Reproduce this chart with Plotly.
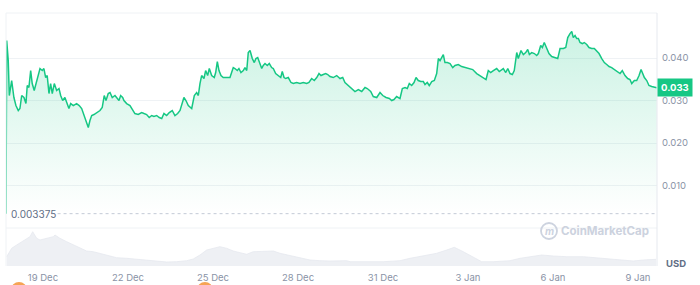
import pandas as pd
import plotly.graph_objects as go

# ---------------- data ----------------
BASE_TIME = "2023-12-19 00:00"          # hours below are relative to this moment
BASELINE_PRICE = 0.003375
CURRENT_PRICE_LABEL = "0.033"

PRICE_HOURS = [
    -31.3, -30.7, -29.4, -28.5, -26.5, -24.6, -22.9, -20.9, -19.5, -18.0,
    -16.1, -14.4, -13.3, -11.9, -10.4, -9.1, -7.4, -5.9, -4.5, -2.5,
    -0.6, 0.8, 2.3, 3.6, 5.1, 6.5, 7.9, 9.6, 11.6, 13.6,
    15.0, 16.7, 18.6, 20.1, 22.0, 23.5, 25.7, 28.5, 30.7, 32.8,
    34.7, 36.4, 38.4, 39.8, 41.3, 43.2, 45.5, 48.3, 50.2, 51.9,
    53.4, 55.3, 56.8, 58.7, 61.0, 62.9, 64.4, 65.8, 67.5, 68.6,
    70.9, 73.7, 76.0, 77.9, 80.7, 83.6, 85.6, 87.8, 90.0, 92.1,
    94.0, 96.3, 98.5, 100.6, 102.5, 104.8, 107.0, 109.5, 111.8, 114.1,
    116.1, 117.5, 119.4, 121.1, 123.1, 126.0, 128.2, 130.2, 131.6, 133.0,
    134.4, 136.4, 137.8, 139.5, 140.9, 142.9, 145.1, 146.3, 147.7, 149.1,
    150.8, 152.7, 155.6, 158.4, 159.8, 161.2, 162.6, 164.6, 166.0, 167.7,
    169.7, 171.1, 172.6, 173.9, 175.4, 177.3, 179.0, 180.4, 181.9, 183.2,
    185.3, 186.6, 188.1, 190.0, 191.7, 193.7, 195.1, 197.1, 199.3, 201.4,
    202.7, 204.2, 205.6, 207.8, 210.1, 212.0, 214.9, 217.7, 220.5, 223.4,
    225.3, 227.6, 229.8, 231.9, 233.8, 235.5, 237.4, 239.5, 241.2, 243.1,
    245.9, 248.8, 251.6, 253.9, 255.8, 258.6, 261.5, 264.3, 267.1, 270.0,
    272.8, 274.7, 277.6, 279.8, 282.7, 285.5, 287.8, 290.6, 293.4, 295.4,
    297.3, 299.6, 302.4, 304.4, 306.7, 308.6, 310.3, 312.3, 314.3, 316.0,
    317.9, 320.0, 322.2, 323.6, 325.5, 327.2, 329.3, 331.5, 333.5, 334.9,
    336.3, 337.7, 339.1, 340.5, 342.5, 344.8, 347.1, 349.0, 351.8, 354.7,
    357.5, 360.3, 364.0, 367.4, 370.2, 373.0, 375.3, 377.2, 379.2, 381.5,
    384.3, 386.5, 389.9, 392.0, 393.7, 395.6, 397.6, 399.2, 401.3, 402.6,
    404.9, 406.9, 408.9, 410.6, 412.0, 414.0, 416.2, 418.2, 419.6, 421.6,
    423.0, 424.6, 426.7, 428.6, 430.9, 433.7, 436.0, 438.0, 440.8, 442.8,
    444.5, 446.4, 447.9, 449.2, 450.7, 452.1, 453.5, 454.9, 456.8, 458.5,
    460.6, 462.5, 464.8, 467.0, 469.0, 471.0, 473.3, 475.5, 477.5, 479.5,
    481.7, 484.0, 486.0, 488.8, 490.7, 493.0, 495.3, 497.2, 498.7, 500.9,
    502.9, 504.9, 506.6, 507.7, 509.4, 511.4, 513.3, 515.6, 517.9, 519.9,
]

PRICES = [
    0.003375, 0.04412, 0.03941, 0.03118, 0.03471, 0.03071, 0.02882, 0.02765, 0.02812, 0.03118,
    0.03071, 0.02929, 0.03353, 0.03306, 0.03706, 0.03400, 0.03235, 0.03400, 0.03588, 0.03753,
    0.03706, 0.03753, 0.03541, 0.03588, 0.03165, 0.03400, 0.03165, 0.03400, 0.03235, 0.03282,
    0.03118, 0.03000, 0.03071, 0.02953, 0.02812, 0.02929, 0.02882, 0.02929, 0.02882, 0.02812,
    0.02647, 0.02529, 0.02365, 0.02529, 0.02647, 0.02671, 0.02718, 0.02765, 0.02835, 0.03118,
    0.03000, 0.03165, 0.03188, 0.03071, 0.03118, 0.03047, 0.03000, 0.03118, 0.03071, 0.03000,
    0.02929, 0.02882, 0.02765, 0.02694, 0.02671, 0.02718, 0.02694, 0.02671, 0.02600, 0.02647,
    0.02624, 0.02647, 0.02600, 0.02576, 0.02694, 0.02647, 0.02718, 0.02765, 0.02647, 0.02694,
    0.02765, 0.02882, 0.03071, 0.03000, 0.02882, 0.02812, 0.03118, 0.03188, 0.03118, 0.03400,
    0.03588, 0.03518, 0.03706, 0.03588, 0.03753, 0.03588, 0.03541, 0.03659, 0.03918, 0.03706,
    0.03588, 0.03541, 0.03541, 0.03541, 0.03659, 0.03776, 0.03753, 0.03706, 0.03753, 0.03659,
    0.03706, 0.03776, 0.03706, 0.04129, 0.04176, 0.03988, 0.03894, 0.03988, 0.04012, 0.03894,
    0.03753, 0.03824, 0.03871, 0.03824, 0.03871, 0.03776, 0.03753, 0.03635, 0.03588, 0.03541,
    0.03682, 0.03541, 0.03518, 0.03541, 0.03424, 0.03400, 0.03424, 0.03400, 0.03424, 0.03400,
    0.03424, 0.03518, 0.03471, 0.03541, 0.03635, 0.03588, 0.03612, 0.03635, 0.03612, 0.03565,
    0.03541, 0.03588, 0.03518, 0.03541, 0.03424, 0.03353, 0.03282, 0.03212, 0.03259, 0.03212,
    0.03306, 0.03282, 0.03212, 0.03094, 0.03071, 0.03188, 0.03118, 0.03071, 0.03047, 0.03000,
    0.03024, 0.03094, 0.03047, 0.03282, 0.03306, 0.03282, 0.03400, 0.03353, 0.03424, 0.03541,
    0.03471, 0.03447, 0.03447, 0.03376, 0.03424, 0.03353, 0.03447, 0.03471, 0.03635, 0.03988,
    0.03941, 0.04012, 0.04082, 0.03894, 0.03894, 0.03871, 0.03776, 0.03824, 0.03847, 0.03800,
    0.03776, 0.03753, 0.03729, 0.03635, 0.03588, 0.03541, 0.03494, 0.03706, 0.03659, 0.03706,
    0.03753, 0.03682, 0.03753, 0.03659, 0.03753, 0.03635, 0.03612, 0.03706, 0.04129, 0.03988,
    0.04176, 0.04082, 0.04129, 0.04200, 0.04082, 0.04129, 0.04106, 0.04059, 0.04106, 0.04294,
    0.04247, 0.04365, 0.04224, 0.04106, 0.04035, 0.04012, 0.03988, 0.04224, 0.04224, 0.04247,
    0.04482, 0.04576, 0.04624, 0.04482, 0.04529, 0.04459, 0.04459, 0.04365, 0.04341, 0.04365,
    0.04318, 0.04247, 0.04224, 0.04224, 0.04176, 0.04106, 0.03988, 0.03894, 0.03847, 0.03800,
    0.03776, 0.03729, 0.03706, 0.03635, 0.03706, 0.03588, 0.03518, 0.03494, 0.03400, 0.03471,
    0.03471, 0.03588, 0.03729, 0.03635, 0.03541, 0.03471, 0.03353, 0.03329, 0.03306, 0.03300,
]

VOLUME_HOURS = [
    -30.7, -26.5, -22.3, -15.2, -11.0, -8.7, -5.3, -2.5, 3.1, 8.7,
    10.2, 14.4, 20.1, 25.7, 31.3, 37.0, 42.6, 48.3, 54.0, 62.4,
    70.9, 79.4, 87.8, 96.3, 104.8, 113.3, 121.7, 127.3, 133.0, 138.7,
    144.3, 149.9, 155.6, 161.2, 166.9, 172.6, 178.1, 186.6, 195.1, 200.8,
    209.2, 217.7, 226.2, 234.6, 243.1, 257.3,
    260.1, 288.3, 302.4, 310.9, 322.2, 333.5, 342.0, 348.4, 356.0, 364.5,
    371.6, 381.5, 395.6, 404.1, 412.6, 422.5, 432.3, 443.6, 457.7, 471.8,
    486.0, 500.0, 508.5, 519.3,
]

VOLUMES_M = [
    0.93, 1.77, 2.10, 2.60, 2.93, 3.43, 2.77, 2.60, 2.77, 2.93,
    3.10, 2.77, 2.43, 2.10, 1.77, 1.50, 1.43, 1.27, 1.10, 0.83,
    0.77, 0.67, 0.53, 0.43, 0.40, 0.43, 0.53, 0.70, 1.10, 1.60,
    1.77, 1.93, 1.77, 1.50, 1.33, 1.17, 1.43, 1.50, 1.50, 1.27,
    1.03, 0.77, 0.60, 0.53, 0.50, 0.53,
    0.43, 0.43, 0.53, 0.77, 1.00, 1.27, 1.60, 1.87, 1.43, 0.93,
    0.43, 0.43, 0.53, 0.77, 0.93, 1.10, 1.00, 0.93, 0.93, 0.77,
    0.60, 0.50, 0.60, 0.67,
]

EVENT_HOURS = [-20.3, 137.2]
PRICE_TICKS = [0.010, 0.020, 0.030, 0.040]
VIEW_HOURS = [-31.3, 520.1]

# ---------------- styling ----------------
GREEN = "#16c784"
GRID = "#eff2f5"
FONT = "Inter, 'Noto Sans', sans-serif"

base = pd.Timestamp(BASE_TIME)
def to_time(hours):
    return [base + pd.Timedelta(hours=h) for h in hours]

t_price = to_time(PRICE_HOURS)
t_vol = to_time(VOLUME_HOURS)
t_event = to_time(EVENT_HOURS)
t_view = to_time(VIEW_HOURS)

fig = go.Figure()

# invisible baseline for the fill
fig.add_trace(go.Scatter(
    x=t_price, y=[BASELINE_PRICE] * len(t_price), mode="lines",
    line=dict(width=0, color="rgba(0,0,0,0)"), hoverinfo="skip", showlegend=False,
    xaxis="x", yaxis="y"))

fig.add_trace(go.Scatter(
    x=t_price, y=PRICES, mode="lines",
    line=dict(color=GREEN, width=1.5),
    fill="tonexty",
    fillgradient=dict(type="vertical",
                      colorscale=[[0, "rgba(22,199,132,0.0)"], [1, "rgba(22,199,132,0.22)"]],
                      start=BASELINE_PRICE, stop=max(PRICES)),
    showlegend=False, xaxis="x", yaxis="y"))

fig.add_trace(go.Scatter(
    x=t_vol, y=VOLUMES_M, mode="lines", fill="tozeroy",
    line=dict(color="#e6e9ef", width=0.8), fillcolor="#eef0f4",
    showlegend=False, xaxis="x2", yaxis="y2"))

W, H = 700, 285
def px(x): return x / W
def py(y): return (H - y) / H

X0, X1 = px(6), px(657)

# event markers (orange pins peeking below the axis)
event_shapes = [
    dict(type="circle", xref="x2", yref="paper", xsizemode="pixel", xanchor=t,
         x0=-8, x1=8, y0=py(298), y1=py(282),
         fillcolor="#f6a454", line=dict(width=0), layer="above")
    for t in t_event
]

fig.update_layout(
    width=W, height=H, margin=dict(l=0, r=0, t=0, b=0),
    paper_bgcolor="white", plot_bgcolor="white",
    font=dict(family=FONT, size=9, color="#808a9d"),
    xaxis=dict(domain=[X0, X1], anchor="y", matches="x2", range=t_view,
               showticklabels=False, showgrid=False, zeroline=False, showline=False),
    xaxis2=dict(domain=[X0, X1], anchor="y2", range=t_view,
                tick0=BASE_TIME, dtick=3 * 86400000, tickformat="%-d %b",
                showgrid=False, zeroline=False, showline=False, ticks="",
                ticklabelstandoff=4,
                tickfont=dict(size=9.5, color="#8a93a6")),
    yaxis=dict(domain=[py(228), py(13)], range=[0, 0.0506], side="right",
               tickvals=PRICE_TICKS, tickformat=".3f", showgrid=True,
               gridcolor=GRID, gridwidth=1, zeroline=False, showline=False,
               ticks="", ticklabelstandoff=4,
               tickfont=dict(size=9.5, color="#8a93a6")),
    yaxis2=dict(domain=[py(266), py(228)], range=[0, 3.8], side="right",
                showticklabels=False, showgrid=False, zeroline=False, showline=False),
    shapes=[
        dict(type="line", xref="paper", yref="paper", x0=X0, x1=X1, y0=py(13), y1=py(13),
             line=dict(color=GRID, width=1)),
        dict(type="line", xref="paper", yref="paper", x0=X0, x1=X1, y0=py(228), y1=py(228),
             line=dict(color=GRID, width=1)),
        dict(type="line", xref="paper", yref="paper", x0=X0, x1=X0, y0=py(266), y1=py(13),
             line=dict(color=GRID, width=1)),
        dict(type="line", xref="paper", yref="paper", x0=X1, x1=X1, y0=py(266), y1=py(13),
             line=dict(color="#e6e9ef", width=1)),
        dict(type="line", xref="x domain", yref="y", x0=0.07, x1=1,
             y0=BASELINE_PRICE, y1=BASELINE_PRICE,
             line=dict(color="#c3cad6", width=1, dash="dot")),
        dict(type="circle", xref="paper", yref="paper",
             x0=px(541), x1=px(557), y0=py(239), y1=py(223),
             line=dict(color="#cdd3df", width=1.8)),
    ] + event_shapes,
    annotations=[
        dict(xref="paper", yref="y", x=px(9), y=BASELINE_PRICE, xanchor="left", yanchor="middle",
             text="0.003375", showarrow=False, font=dict(size=10, color="#616e85")),
        dict(xref="paper", yref="y", x=X1, y=0.033, xanchor="left", yanchor="middle",
             text="<b>" + CURRENT_PRICE_LABEL + "</b>", showarrow=False,
             bgcolor=GREEN, borderpad=3, font=dict(size=9.5, color="white")),
        dict(xref="paper", yref="paper", x=px(676), y=py(263), xanchor="center", yanchor="middle",
             text="<b>USD</b>", showarrow=False, font=dict(size=9.5, color="#616e85")),
        dict(xref="paper", yref="paper", x=px(549), y=py(231), xanchor="center", yanchor="middle",
             text="<i><b>m</b></i>", showarrow=False, font=dict(size=10, color="#cdd3df")),
        dict(xref="paper", yref="paper", x=px(605), y=py(231), xanchor="center", yanchor="middle",
             text="<b>CoinMarketCap</b>", showarrow=False, font=dict(size=11.5, color="#ccd2de")),
    ],
)

fig.write_html("out.html")
